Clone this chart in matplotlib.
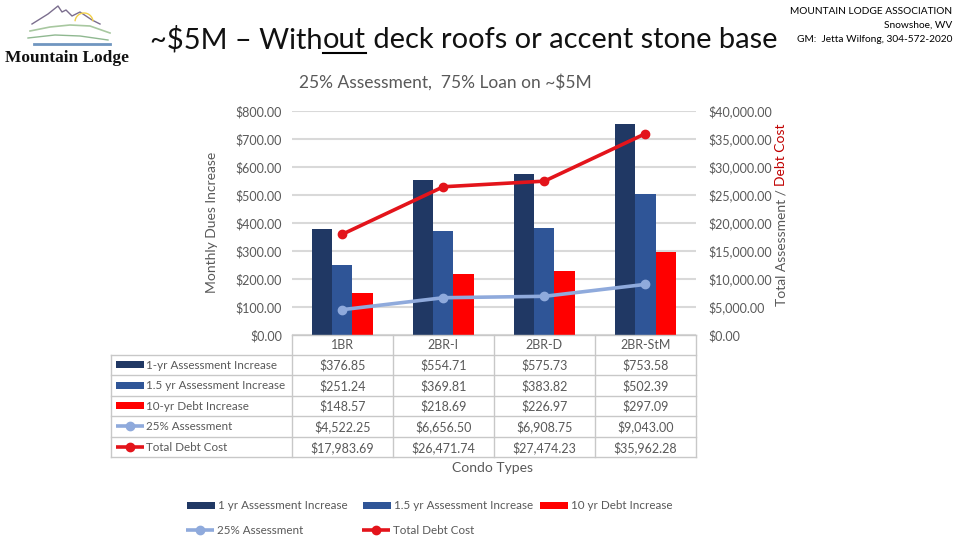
import matplotlib
matplotlib.use("Agg")
import matplotlib.pyplot as plt
import numpy as np
from matplotlib.ticker import FuncFormatter, MultipleLocator

# ---------------- data ----------------
categories = ["1BR", "2BR-I", "2BR-D", "2BR-StM"]
assess_1yr = [376.85, 554.71, 575.73, 753.58]
assess_15yr = [251.24, 369.81, 383.82, 502.39]
debt_10yr = [148.57, 218.69, 226.97, 297.09]
assess_25 = [4522.25, 6656.50, 6908.75, 9043.00]
total_debt = [17983.69, 26471.74, 27474.23, 35962.28]
table_labels = ["1-yr Assessment Increase", "1.5 yr Assessment Increase",
                "10-yr Debt Increase", "25% Assessment", "Total Debt Cost"]
legend_labels = ["1 yr Assessment Increase", "1.5 yr Assessment Increase",
                 "10 yr Debt Increase", "25% Assessment", "Total Debt Cost"]

C_DARK = "#203864"
C_MED = "#2F5597"
C_RED = "#FF0000"
C_LBLUE = "#8FAADC"
C_LRED = "#E3141B"
GREY_TXT = "#595959"
GRID = "#D9D9D9"
BORDER = "#C8C8C8"

plt.rcParams["font.family"] = ["Lato", "DejaVu Sans"]

W, H = 960, 540
fig = plt.figure(figsize=(9.6, 5.4), dpi=100)
fig.patch.set_facecolor("white")

# plot area in pixels
PL, PR, PT, PB = 291.7, 696.0, 111.0, 335.0
ax = fig.add_axes([PL / W, (H - PB) / H, (PR - PL) / W, (PB - PT) / H])
ax.set_facecolor("none")
ax2 = ax.twinx()

x = np.arange(len(categories))
bw = 0.2
ax.bar(x - bw, assess_1yr, bw, color=C_DARK, zorder=3)
ax.bar(x, assess_15yr, bw, color=C_MED, zorder=3)
ax.bar(x + bw, debt_10yr, bw, color=C_RED, zorder=3)
ax.set_xlim(-0.5, len(categories) - 0.5)
ax.set_ylim(0, 800)
ax.yaxis.set_major_locator(MultipleLocator(100))
ax.yaxis.set_major_formatter(FuncFormatter(lambda v, p: f"${v:,.2f}"))
ax.grid(axis="y", color=GRID, linewidth=1.5, zorder=0)
ax.set_axisbelow(True)
ax.set_xticks([])
for s in ax.spines.values():
    s.set_visible(False)
ax.tick_params(axis="y", length=0, pad=7, labelsize=9, labelcolor=GREY_TXT)

ax2.plot(x, assess_25, color=C_LBLUE, lw=2.6, marker="o", ms=6, zorder=4)
ax2.plot(x, total_debt, color=C_LRED, lw=2.6, marker="o", ms=6, zorder=4)
ax2.set_ylim(0, 40000)
ax2.yaxis.set_major_locator(MultipleLocator(5000))
ax2.yaxis.set_major_formatter(FuncFormatter(lambda v, p: f"${v:,.2f}"))
for s in ax2.spines.values():
    s.set_visible(False)
ax2.tick_params(axis="y", length=0, pad=9, labelsize=9, labelcolor=GREY_TXT)

# ---------------- overlay in pixel coords ----------------
ov = fig.add_axes([0, 0, 1, 1], zorder=5)
ov.set_xlim(0, W)
ov.set_ylim(H, 0)
ov.axis("off")
ov.patch.set_alpha(0)

# data table
colx = [PL + i * (PR - PL) / len(categories) for i in range(len(categories) + 1)]
TL = 111.0
row_top = 354.5
rh = 20.5
nrows = len(table_labels)
row_edges = [row_top + i * rh for i in range(nrows + 1)]
lw_b = 1.0
ov.plot([colx[0], colx[-1]], [PB, PB], color=BORDER, lw=lw_b)
for cx in colx:
    ov.plot([cx, cx], [PB, row_edges[-1]], color=BORDER, lw=lw_b)
for ry in row_edges:
    ov.plot([TL, colx[-1]], [ry, ry], color=BORDER, lw=lw_b)
ov.plot([TL, TL], [row_edges[0], row_edges[-1]], color=BORDER, lw=lw_b)
for i, c in enumerate(categories):
    ov.text((colx[i] + colx[i + 1]) / 2, (PB + row_top) / 2 + 0.5, c,
            ha="center", va="center", fontsize=9, color=GREY_TXT)

series_vals = [assess_1yr, assess_15yr, debt_10yr, assess_25, total_debt]
styles = [("bar", C_DARK), ("bar", C_MED), ("bar", C_RED),
          ("line", C_LBLUE), ("line", C_LRED)]


def draw_key(xk, yc, style, width=28):
    kind, col = style
    if kind == "bar":
        ov.add_patch(plt.Rectangle((xk, yc - 3.5), width, 7, color=col, lw=0))
    else:
        ov.plot([xk, xk + width], [yc, yc], color=col, lw=2.6, solid_capstyle="butt")
        ov.plot([xk + width / 2], [yc], marker="o", ms=6, color=col)


for r in range(nrows):
    yc = (row_edges[r] + row_edges[r + 1]) / 2
    draw_key(116, yc, styles[r])
    ov.text(146, yc + 0.5, table_labels[r], ha="left", va="center",
            fontsize=8.4, color=GREY_TXT)
    for i in range(len(categories)):
        ov.text((colx[i] + colx[i + 1]) / 2, yc + 0.5, f"${series_vals[r][i]:,.2f}",
                ha="center", va="center", fontsize=9, color=GREY_TXT)

ov.text(493, 468, "Condo Types", ha="center", va="center", fontsize=10, color=GREY_TXT)

# legend at bottom
leg_pos = [(187, 505), (363, 505), (540, 505), (186, 530), (362, 530)]
for (lx, ly), lab, st in zip(leg_pos, legend_labels, styles):
    draw_key(lx, ly, st, width=28)
    ov.text(lx + 31, ly + 0.5, lab, ha="left", va="center", fontsize=8.4, color=GREY_TXT)

# chart title and axis titles
ov.text(445, 82, "25% Assessment,  75% Loan on ~$5M", ha="center", va="center",
        fontsize=12.5, color=GREY_TXT)
ov.text(212, 222, "Monthly Dues Increase", ha="center", va="center", rotation=90,
        fontsize=10, color=GREY_TXT)

fig.canvas.draw()
renderer = fig.canvas.get_renderer()
t1 = ov.text(781, 306, "Total Assessment / ", ha="center", va="bottom", rotation=90,
             fontsize=10, color=GREY_TXT)
bb = t1.get_window_extent(renderer)
top_px = H - bb.y1
ov.text(781, top_px, "Debt Cost", ha="center", va="bottom", rotation=90,
        fontsize=10, color="#C00000")

# page title with underlined "out" -- fitted to reference width
title_parts = ["~$5M – With", "out", " deck roofs or accent stone base"]
title_family = ["Lato", "DejaVu Sans"]
probe = ov.text(0, 0, "".join(title_parts), fontsize=20, family=title_family)
pw = probe.get_window_extent(renderer).width
probe.remove()
tsize = 20 * (628.0 / pw)
tx, ty = 150, 40
cur = tx
for j, part in enumerate(title_parts):
    t = ov.text(cur, ty, part, ha="left", va="center", fontsize=tsize, color="#111111",
                family=title_family)
    b = t.get_window_extent(renderer)
    if j == 1:
        ov.plot([b.x0, b.x1], [52.5, 52.5], color="black", lw=1.5)
    cur = b.x1

# top-right association info
ov.text(952, 11, "MOUNTAIN LODGE ASSOCIATION", ha="right", va="center", fontsize=7.3, color="black")
ov.text(952, 25, "Snowshoe, WV", ha="right", va="center", fontsize=7.3, color="black")
ov.text(952, 40, "GM:  Jetta Wilfong, 304-572-2020", ha="right", va="center", fontsize=7.3, color="black")

# logo
ov.plot([32, 48, 58, 62, 66, 72, 80, 92, 100], [24, 14, 6, 12, 10, 16, 12, 20, 24],
        color="#7B6E8E", lw=1.0)
sun = np.linspace(np.pi * 0.05, np.pi * 0.95, 30)
ov.plot(84 + 9 * np.cos(sun), 22 - 9 * np.sin(sun), color="#F2D04A", lw=1.0)
ov.plot([30, 50, 70, 90, 110], [31, 27, 25, 26, 33], color="#A8C8A0", lw=1.2)
ov.plot([28, 55, 80, 108], [38, 35, 36, 40], color="#8FB890", lw=1.0)
ov.plot([34, 110], [44, 44], color="#7096C0", lw=2.0)
ov.text(67, 58, "Mountain Lodge", ha="center", va="center", fontsize=12.5,
        fontweight="bold", family=["Liberation Serif", "DejaVu Serif"], color="#111111")

fig.savefig("out.png", dpi=100)
